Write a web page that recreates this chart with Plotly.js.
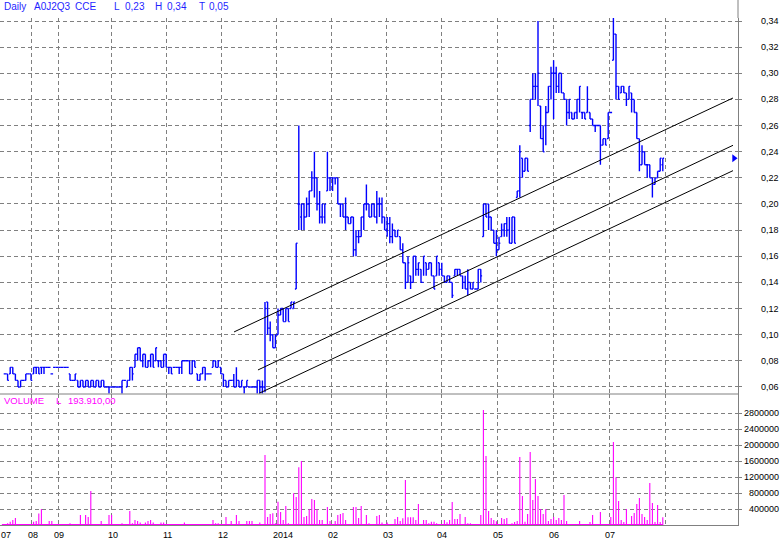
<!DOCTYPE html>
<html>
<head>
<meta charset="utf-8">
<script src="https://cdn.plot.ly/plotly-3.0.1.min.js"></script>
<style>html,body{margin:0;padding:0;background:#fff;}#chart{width:783px;height:543px;}</style>
</head>
<body>
<div id="chart"></div>
<script>
// ---- DATA (trading-day index 0..253, Jul 2013 .. Aug 2014) ----
const open = [
.07,.07,.07,.075,.07,.065,.06,.065,.065,.07,
.07,.07,.075,.075,.075,.075,.075,.075,.07,.075,
.075,.075,.075,.075,.075,.07,.065,.065,.065,.06,
.065,.06,.065,.06,.065,.06,.065,.06,.065,.06,
.06,.06,.06,.06,.06,.06,.065,.06,.065,.075,
.075,.085,.09,.08,.085,.075,.08,.085,.08,.08,
.08,.075,.085,.075,.075,.075,.075,.075,.075,.08,
.08,.08,.07,.08,.07,.065,.07,.075,.07,.07,
.075,.08,.075,.075,.07,.065,.06,.065,.065,.06,
.065,.06,.06,.06,.06,.06,.06,.06,.065,.06,
.06,.125,.105,.10,.09,.10,.115,.12,.11,.12,
.12,.12,.135,.2,.19,.2,.19,.2,.21,.22,
.22,.2,.19,.19,.21,.22,.22,.22,.22,.2,
.2,.19,.19,.185,.19,.165,.175,.175,.19,.2,
.2,.19,.2,.19,.2,.2,.19,.18,.185,.175,
.18,.175,.175,.165,.155,.14,.145,.14,.16,.15,
.15,.14,.155,.15,.155,.145,.145,.155,.15,.145,
.14,.145,.14,.145,.15,.15,.145,.14,.135,.14,
.135,.135,.135,.15,.175,.2,.2,.19,.18,.17,
.165,.175,.18,.185,.18,.17,.19,.205,.21,.235,
.225,.235,.26,.28,.29,.29,.275,.25,.26,.27,
.29,.3,.3,.29,.3,.285,.28,.27,.27,.265,
.27,.28,.27,.27,.27,.27,.265,.26,.26,.26,
.245,.25,.25,.27,.31,.33,.29,.285,.29,.285,
.28,.285,.28,.27,.25,.23,.24,.23,.23,.22,
.215,.22,.225,.23];
const high = [
.07,.07,.075,.075,.07,.065,.065,.065,.07,.07,
.07,.075,.075,.075,.075,.075,.075,.075,.07,.075,
.075,.075,.075,.075,.075,.07,.065,.07,.065,.065,
.065,.065,.065,.065,.065,.065,.065,.065,.065,.06,
.06,.06,.06,.06,.06,.065,.065,.065,.075,.075,
.085,.09,.09,.085,.085,.08,.085,.085,.09,.08,
.08,.085,.085,.075,.075,.075,.075,.075,.08,.08,
.08,.08,.08,.08,.07,.07,.075,.075,.07,.07,
.08,.08,.08,.075,.07,.065,.065,.065,.07,.075,
.065,.065,.06,.065,.06,.06,.06,.065,.065,.065,
.125,.125,.11,.10,.10,.12,.12,.12,.12,.12,
.125,.125,.17,.26,.2,.2,.205,.21,.225,.24,
.22,.21,.2,.2,.24,.22,.22,.22,.22,.2,
.2,.205,.19,.19,.19,.18,.18,.19,.2,.215,
.2,.2,.2,.21,.205,.205,.19,.19,.19,.185,
.18,.18,.175,.17,.155,.16,.145,.16,.16,.155,
.15,.16,.155,.155,.155,.145,.16,.155,.155,.145,
.145,.145,.14,.15,.15,.15,.145,.145,.15,.14,
.14,.135,.15,.15,.2,.2,.2,.19,.18,.18,
.175,.185,.185,.19,.19,.19,.19,.21,.245,.235,
.235,.235,.28,.30,.30,.34,.275,.26,.275,.29,
.305,.31,.305,.30,.30,.285,.28,.28,.27,.27,
.28,.29,.27,.27,.29,.27,.265,.26,.26,.26,
.25,.25,.27,.27,.345,.33,.29,.29,.29,.285,
.29,.285,.28,.27,.25,.245,.24,.23,.23,.22,
.22,.225,.235,.235];
const low = [
.07,.065,.07,.07,.065,.06,.06,.065,.065,.07,
.065,.07,.07,.07,.07,.07,.075,.075,.07,.075,
.075,.075,.075,.075,.075,.065,.065,.065,.06,.06,
.06,.06,.06,.06,.06,.06,.06,.06,.06,.06,
.055,.06,.06,.06,.06,.055,.065,.06,.065,.065,
.075,.08,.08,.075,.075,.075,.075,.075,.08,.075,
.075,.075,.075,.07,.07,.075,.075,.07,.07,.08,
.08,.07,.07,.075,.065,.065,.07,.065,.07,.07,
.075,.075,.075,.07,.06,.06,.06,.065,.06,.06,
.06,.06,.055,.06,.06,.06,.06,.055,.055,.055,
.056,.10,.095,.09,.09,.10,.115,.11,.11,.11,
.12,.12,.135,.18,.18,.18,.19,.19,.21,.205,
.195,.185,.185,.185,.21,.21,.21,.215,.2,.19,
.19,.18,.185,.185,.16,.16,.17,.175,.18,.195,
.19,.19,.19,.185,.19,.185,.18,.175,.17,.17,
.175,.175,.165,.155,.135,.14,.135,.14,.145,.145,
.14,.145,.145,.15,.145,.135,.145,.145,.145,.14,
.14,.14,.128,.145,.145,.145,.135,.135,.13,.135,
.135,.135,.135,.14,.175,.19,.18,.18,.17,.16,
.165,.175,.175,.175,.17,.17,.17,.205,.205,.22,
.225,.225,.255,.28,.28,.275,.25,.24,.245,.27,
.28,.265,.285,.285,.285,.28,.26,.265,.265,.265,
.265,.27,.265,.265,.27,.265,.26,.255,.26,.23,
.245,.245,.25,.27,.31,.28,.28,.285,.285,.275,
.28,.27,.27,.25,.225,.23,.23,.22,.22,.205,
.215,.22,.225,.225];
const close = [
.07,.065,.075,.07,.065,.06,.065,.065,.07,.07,
.065,.075,.075,.07,.075,.075,.075,.075,.07,.075,
.075,.075,.075,.075,.075,.065,.065,.07,.06,.065,
.06,.065,.06,.065,.06,.065,.06,.065,.06,.06,
.06,.06,.06,.06,.06,.065,.065,.065,.075,.07,
.085,.09,.08,.085,.075,.08,.085,.075,.09,.08,
.075,.085,.075,.075,.07,.075,.075,.075,.08,.08,
.08,.07,.08,.075,.065,.07,.075,.07,.07,.07,
.08,.075,.08,.07,.065,.06,.065,.065,.06,.065,
.06,.065,.06,.065,.06,.06,.06,.065,.06,.06,
.12,.105,.10,.09,.10,.115,.12,.11,.12,.11,
.125,.125,.17,.2,.2,.19,.2,.21,.22,.22,
.2,.19,.2,.2,.22,.22,.22,.22,.2,.2,
.19,.19,.185,.19,.165,.175,.175,.19,.2,.2,
.19,.2,.19,.2,.2,.19,.18,.185,.175,.18,
.175,.18,.165,.155,.14,.155,.14,.16,.15,.155,
.14,.16,.15,.155,.145,.135,.16,.15,.145,.14,
.145,.14,.13,.15,.15,.145,.14,.135,.14,.135,
.14,.135,.15,.145,.2,.19,.19,.18,.17,.165,
.17,.18,.185,.18,.17,.19,.17,.21,.24,.225,
.235,.225,.28,.29,.29,.3,.25,.24,.27,.29,
.3,.3,.29,.3,.285,.28,.27,.28,.265,.27,
.28,.29,.27,.265,.28,.265,.26,.26,.26,.245,
.25,.245,.27,.27,.33,.29,.28,.29,.285,.28,
.29,.28,.27,.25,.23,.24,.23,.23,.22,.215,
.22,.225,.235,.235];
const volume = [
0,42000,84000,125000,175000,0,0,0,0,0,
0,84000,100000,290000,400000,0,0,100000,100000,0,
0,0,0,0,0,42000,0,0,0,250000,
0,250000,200000,853000,0,0,0,100000,0,0,
250000,250000,0,0,0,42000,0,0,351000,42000,
125000,100000,60000,0,60000,100000,125000,60000,0,0,
60000,60000,0,0,0,0,0,0,0,60000,
0,0,0,0,0,0,0,0,0,0,
125000,42000,42000,0,0,200000,0,100000,0,250000,
100000,0,0,100000,100000,100000,0,0,60000,0,
1755000,200000,276000,293000,42000,585000,326000,125000,476000,42000,
0,794000,702000,1446000,1605000,200000,226000,393000,652000,627000,
393000,125000,125000,0,451000,100000,0,100000,250000,276000,
301000,125000,0,0,451000,451000,175000,476000,0,250000,
42000,0,0,226000,250000,60000,0,60000,0,0,
150000,200000,100000,167000,1128000,192000,192000,192000,125000,527000,
0,125000,125000,42000,84000,84000,42000,0,0,125000,
67000,125000,577000,150000,150000,276000,0,200000,42000,42000,
0,0,0,250000,2884000,1730000,351000,175000,125000,92000,
0,175000,150000,175000,0,42000,75000,100000,1705000,727000,
84000,276000,1831000,627000,1154000,727000,401000,276000,401000,100000,
150000,200000,125000,175000,125000,752000,100000,0,0,0,
0,100000,0,0,0,75000,250000,0,0,326000,
0,0,0,200000,2081000,1195000,602000,125000,75000,401000,
0,226000,301000,527000,677000,276000,200000,125000,1053000,552000,
75000,502000,75000,193910];

// month boundaries (trading-day index) and their labels
const monthStart = [10.3, 20.5, 41.0, 62.2, 83.3, 104.5, 125.7, 146.8, 167.7, 189.3, 210.9, 232.4, 254.1];
const monthLabels = ["08", "09", "10", "11", "12", "2014", "02", "03", "04", "05", "06", "07", ""];
const firstLabel = "07";

const priceTicks = [0.06,0.08,0.10,0.12,0.14,0.16,0.18,0.20,0.22,0.24,0.26,0.28,0.30,0.32,0.34];
const priceTickText = ["0,06","0,08","0,10","0,12","0,14","0,16","0,18","0,20","0,22","0,24","0,26","0,28","0,30","0,32","0,34"];
const volTicks = [400000,800000,1200000,1600000,2000000,2400000,2800000];
const volTickText = ["400000","800000","1200000","1600000","2000000","2400000","2800000"];

// trend channel (start / end day index and price)
const upperX = [88.1, 280.0], upperY = [0.1021, 0.2811];
const midX = [97.3, 280.0], midY = [0.0730, 0.2449];
const lowerX = [97.8, 280.0], lowerY = [0.0552, 0.2255];

const headerParts = ["Daily", "A0J2Q3", "CCE", "L", "0,23", "H", "0,34", "T", "0,05"];
const volumeParts = ["VOLUME", "L", "193.910,00"];

// ---- CHART ----
const days = close.map((_, i) => i);
const PW = 738, PH = 507;
const FONT = "Liberation Sans, Arial, sans-serif";
const GRID = "#808080";

const traces = [
  {type: "ohlc", x: days, open: open, high: high, low: low, close: close,
   xaxis: "x", yaxis: "y", tickwidth: 0.5, hoverinfo: "skip",
   increasing: {line: {color: "#0000ff", width: 1.4}},
   decreasing: {line: {color: "#0000ff", width: 1.4}}},
  {type: "bar", x: days, y: volume, xaxis: "x", yaxis: "y2", width: 0.42,
   marker: {color: "#ff00ff", line: {width: 0}}, hoverinfo: "skip"},
  {type: "scatter", mode: "lines", x: upperX, y: upperY, xaxis: "x", yaxis: "y", line: {color: "#000", width: 1}, hoverinfo: "skip"},
  {type: "scatter", mode: "lines", x: midX, y: midY, xaxis: "x", yaxis: "y", line: {color: "#000", width: 1}, hoverinfo: "skip"},
  {type: "scatter", mode: "lines", x: lowerX, y: lowerY, xaxis: "x", yaxis: "y", line: {color: "#000", width: 1}, hoverinfo: "skip"},
  {type: "scatter", mode: "markers", x: [280.4], y: [close[close.length - 1]], xaxis: "x", yaxis: "y",
   marker: {symbol: "triangle-right", size: 7, color: "#0000ff"}, hoverinfo: "skip"}
];

const annotations = [];
const hx = [3, 33, 74, 113, 124, 154, 166, 198, 208];
headerParts.forEach((t, k) => annotations.push({text: t, xref: "paper", yref: "paper", x: hx[k] / PW, y: 1, yshift: 12,
  xanchor: "left", yanchor: "middle", showarrow: false, borderpad: 0, font: {family: FONT, size: 10, color: "#1f1fff"}}));
const vx = [3, 55, 67];
volumeParts.forEach((t, k) => annotations.push({text: t, xref: "paper", yref: "y2 domain", x: vx[k] / PW, y: 1, yshift: -6,
  xanchor: "left", yanchor: "middle", showarrow: false, borderpad: 0, font: {family: FONT, size: 9.5, color: "#ff00ff"}}));
priceTicks.forEach((v, k) => annotations.push({text: priceTickText[k], xref: "paper", yref: "y", x: 1, xshift: 42, y: v,
  xanchor: "right", yanchor: "middle", showarrow: false, borderpad: 0, font: {family: FONT, size: 9, color: "#000"}}));
volTicks.forEach((v, k) => annotations.push({text: volTickText[k], xref: "paper", yref: "y2", x: 1, xshift: 42, y: v,
  xanchor: "right", yanchor: "middle", showarrow: false, borderpad: 0, font: {family: FONT, size: 9, color: "#000"}}));
annotations.push({text: firstLabel, xref: "x", yref: "paper", x: 0, xshift: -5, y: 0, yshift: -9.5,
  xanchor: "left", yanchor: "middle", showarrow: false, borderpad: 0, font: {family: FONT, size: 9, color: "#000"}});
monthStart.forEach((v, k) => { if (monthLabels[k]) annotations.push({text: monthLabels[k], xref: "x", yref: "paper", x: v, xshift: -5, y: 0, yshift: -9.5,
  xanchor: "left", yanchor: "middle", showarrow: false, borderpad: 0, font: {family: FONT, size: 9, color: "#000"}}); });

const volDom = 131 / PH;
const layout = {
  width: 783, height: 543,
  margin: {l: 0, r: 45, t: 18, b: 18, pad: 0},
  paper_bgcolor: "#fff", plot_bgcolor: "#fff",
  showlegend: false,
  xaxis: {range: [-5 / 2.6, 733 / 2.6], tickvals: monthStart, showticklabels: false, ticks: "",
    showgrid: true, gridcolor: GRID, gridwidth: 1, griddash: "4px,3px", zeroline: false,
    showline: true, linecolor: GRID, linewidth: 1, anchor: "y2", rangeslider: {visible: false}, fixedrange: true},
  yaxis: {domain: [volDom, 1], range: [0.05461, 0.3423], tickvals: priceTicks, showticklabels: false,
    side: "right", anchor: "x", ticks: "outside", ticklen: 3, tickcolor: GRID,
    showgrid: true, gridcolor: GRID, gridwidth: 1, griddash: "4px,3px", zeroline: false,
    showline: true, linecolor: GRID, linewidth: 1, fixedrange: true},
  yaxis2: {domain: [0, volDom], range: [0, 3285266], tickvals: volTicks, showticklabels: false,
    side: "right", anchor: "x", ticks: "outside", ticklen: 3, tickcolor: GRID,
    showgrid: true, gridcolor: GRID, gridwidth: 1, griddash: "4px,3px", zeroline: false,
    showline: true, linecolor: GRID, linewidth: 1, fixedrange: true},
  shapes: [
    {type: "line", xref: "paper", yref: "paper", x0: 0, x1: 1, y0: volDom, y1: volDom, line: {color: GRID, width: 1}},
    {type: "line", xref: "paper", yref: "paper", x0: 1, x1: 1, y0: 1, y1: 1 + 18 / PH, line: {color: GRID, width: 1}},
    {type: "line", xref: "x", yref: "y2", x0: days[0] - 1.2, x1: days[days.length - 1], y0: 0, y1: 0, line: {color: "#ff00ff", width: 2}}
  ],
  annotations: annotations
};

Plotly.newPlot("chart", traces, layout, {staticPlot: true, displayModeBar: false});
</script>
</body>
</html>
